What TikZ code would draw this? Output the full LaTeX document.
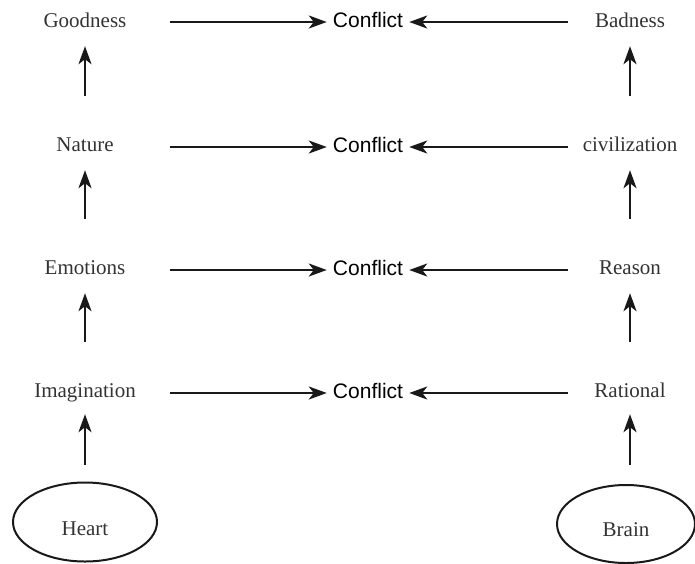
\documentclass[tikz,border=0pt]{standalone}
\usepackage{fontspec}
\setmainfont{Liberation Serif}
\newfontfamily\confont{Liberation Sans}
\usetikzlibrary{arrows.meta,shapes.geometric}
\begin{document}
\begin{tikzpicture}[x=1pt,y=-1pt,
  lbl/.style={font=\fontsize{21}{25}\selectfont, text=black!80, inner sep=0pt, text height=15pt, text depth=5pt},
  leftlbl/.style={lbl, minimum width=170pt},
  rightlbl/.style={lbl, minimum width=124pt},
  conf/.style={font=\confont\fontsize{21}{25}\selectfont, text=black, inner ysep=0pt, inner xsep=6pt, text height=15pt, text depth=5pt},
  blob/.style={draw=black!90, line width=2pt, ellipse, inner sep=0pt, text depth=0pt, font=\fontsize{21}{25}\selectfont, text=black!80},
  arr/.style={line width=2.4pt, draw=black!90, -{Stealth[length=18pt,width=13pt,inset=5pt]}},
  up/.style={arr, shorten <=40pt, shorten >=14pt}
]
\useasboundingbox (0,0) rectangle (695,563);
% left column
\node[leftlbl] (good) at (85,22) {Goodness};
\node[leftlbl] (nat)  at (85,146) {Nature};
\node[leftlbl] (emo)  at (85,269) {Emotions};
\node[leftlbl] (ima)  at (85,392) {Imagination};
% right column
\node[rightlbl] (bad) at (630,22) {Badness};
\node[rightlbl] (civ) at (630,146) {civilization};
\node[rightlbl] (rea) at (630,269) {Reason};
\node[rightlbl] (rat) at (630,392) {Rational};
% conflicts
\node[conf] (c1) at (368,22) {Conflict};
\node[conf] (c2) at (368,147) {Conflict};
\node[conf] (c3) at (368,270) {Conflict};
\node[conf] (c4) at (368,393) {Conflict};
% ellipses
\node[blob, text height=26pt, minimum width=144pt, minimum height=79pt] (heart) at (85,522) {Heart};
\node[blob, text height=24pt, minimum width=138pt, minimum height=78pt] (brain) at (626,524) {Brain};
% horizontal arrows
\draw[arr] (good.east |- c1) -- (c1.west);
\draw[arr] (nat.east |- c2) -- (c2.west);
\draw[arr] (emo.east |- c3) -- (c3.west);
\draw[arr] (ima.east |- c4) -- (c4.west);
\draw[arr] (bad.west |- c1) -- (c1.east);
\draw[arr] (civ.west |- c2) -- (c2.east);
\draw[arr] (rea.west |- c3) -- (c3.east);
\draw[arr] (rat.west |- c4) -- (c4.east);
% vertical arrows
\draw[up] (nat.north) -- (good.south);
\draw[up] (emo.north) -- (nat.south);
\draw[up] (ima.north) -- (emo.south);
\draw[arr, shorten <=17pt, shorten >=12pt] (heart.north) -- (ima.south);
\draw[up] (civ.north) -- (bad.south);
\draw[up] (rea.north) -- (civ.south);
\draw[up] (rat.north) -- (rea.south);
\draw[arr, shorten <=19pt, shorten >=12pt] (brain.north -| rat.south) -- (rat.south);
\end{tikzpicture}
\end{document}
